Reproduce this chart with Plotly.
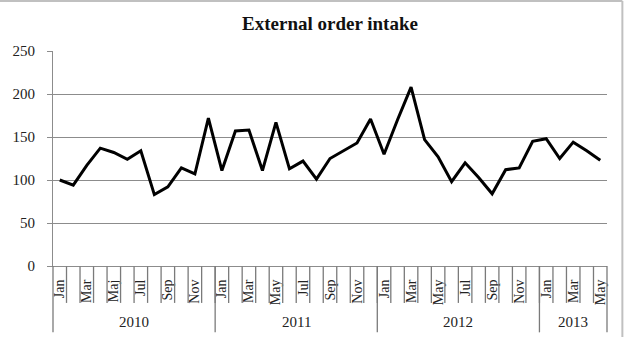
import plotly.graph_objects as go

title = "External order intake"
months = ["Jan", "Feb", "Mar", "Apr", "Maj", "Jun", "Jul", "Aug", "Sep", "Oct", "Nov", "Dec",
          "Jan", "Feb", "Mar", "Apr", "May", "Jun", "Jul", "Aug", "Sep", "Oct", "Nov", "Dec",
          "Jan", "Feb", "Mar", "Apr", "May", "Jun", "Jul", "Aug", "Sep", "Oct", "Nov", "Dec",
          "Jan", "Feb", "Mar", "Apr", "May"]
years = ["2010"] * 12 + ["2011"] * 12 + ["2012"] * 12 + ["2013"] * 5
values = [100, 94, 117, 137, 132, 124, 134, 83, 92, 114, 107, 172,
          111, 157, 158, 111, 167, 113, 122, 101, 125, 134, 143, 171,
          130, 170, 208, 147, 127, 98, 120, 103, 84, 112, 114, 145,
          148, 125, 144, 134, 123]
y_ticks = [0, 50, 100, 150, 200, 250]

FONT = "Liberation Serif"
GRAY = "#8c8c8c"
W, H = 625, 337
L, R, T, B = 48, 18, 51, 70.5
pw, ph = W - L - R, H - T - B
N = len(values)

idx = list(range(N))

fig = go.Figure()
fig.add_trace(go.Scatter(x=idx, y=values, mode="lines",
                         line=dict(color="black", width=3), showlegend=False,
                         hoverinfo="skip"))

tickvals = idx[::2]
ticktext = [months[i] for i in tickvals]

def py(px):  # pixel y (from top) to paper coords
    return (H - B - px) / ph

def boundary(k):  # paper x of the boundary before category k
    return k / N

annotations = []
shapes = []
# category boundary lines in the label band
for k in range(1, N):
    shapes.append(dict(type="line", xref="paper", yref="paper", x0=boundary(k), x1=boundary(k),
                       y0=-0.002, y1=py(303.5), layer="above",
                       line=dict(color="#7a7a7a", width=1.3)))
# year groups
year_names = []
for y in years:
    if y not in year_names:
        year_names.append(y)
for yn in year_names:
    ids = [i for i, y in enumerate(years) if y == yn]
    annotations.append(dict(x=(ids[0] + ids[-1]) / 2, y=py(323), xref="x", yref="paper",
                            text=yn, showarrow=False, xanchor="center", yanchor="middle",
                            font=dict(family=FONT, size=15, color="#222")))
    shapes.append(dict(type="line", xref="paper", yref="paper", x0=boundary(ids[0]), x1=boundary(ids[0]),
                       y0=0, y1=py(333), line=dict(color="#7a7a7a", width=1.3)))
shapes.append(dict(type="line", xref="paper", yref="paper", x0=boundary(N), x1=boundary(N),
                   y0=0, y1=py(333), line=dict(color="#7a7a7a", width=1.3)))
# outer chart border (top and right visible)
shapes.append(dict(type="line", xref="paper", yref="paper", x0=-0.2, x1=(622.5 - L) / pw,
                   y0=py(0.8), y1=py(0.8), line=dict(color="#c0c0c0", width=2)))
shapes.append(dict(type="line", xref="paper", yref="paper", x0=(622.5 - L) / pw, x1=(622.5 - L) / pw,
                   y0=py(0.8), y1=py(340), line=dict(color="#c0c0c0", width=2)))

fig.update_layout(
    width=W, height=H,
    margin=dict(l=L, r=R, t=T, b=B, pad=0),
    paper_bgcolor="white", plot_bgcolor="white",
    title=dict(text="<b>" + title + "</b>", x=0.5, xref="paper", y=1 - 23 / H, yref="container",
               xanchor="center", yanchor="middle",
               font=dict(family=FONT, size=19, color="#111")),
    font=dict(family=FONT, size=15, color="#222"),
    xaxis=dict(range=[-0.5, N - 0.5], tickmode="array", tickvals=tickvals,
               ticktext=ticktext, tickangle=-90, ticks="outside", ticklen=7,
               tickcolor="rgba(0,0,0,0)", showline=True, linecolor=GRAY, linewidth=1,
               showgrid=False, zeroline=False,
               tickfont=dict(family=FONT, size=14, color="#222")),
    yaxis=dict(range=[0, 250], tickmode="array", tickvals=y_ticks, ticks="outside",
               ticklen=5, tickcolor=GRAY, showline=True, linecolor=GRAY, linewidth=1,
               showgrid=True, gridcolor=GRAY, gridwidth=1, zeroline=False,
               ticklabelstandoff=9,
               tickfont=dict(family=FONT, size=15, color="#222")),
    annotations=annotations,
    shapes=shapes,
)

fig.write_html("out.html")
